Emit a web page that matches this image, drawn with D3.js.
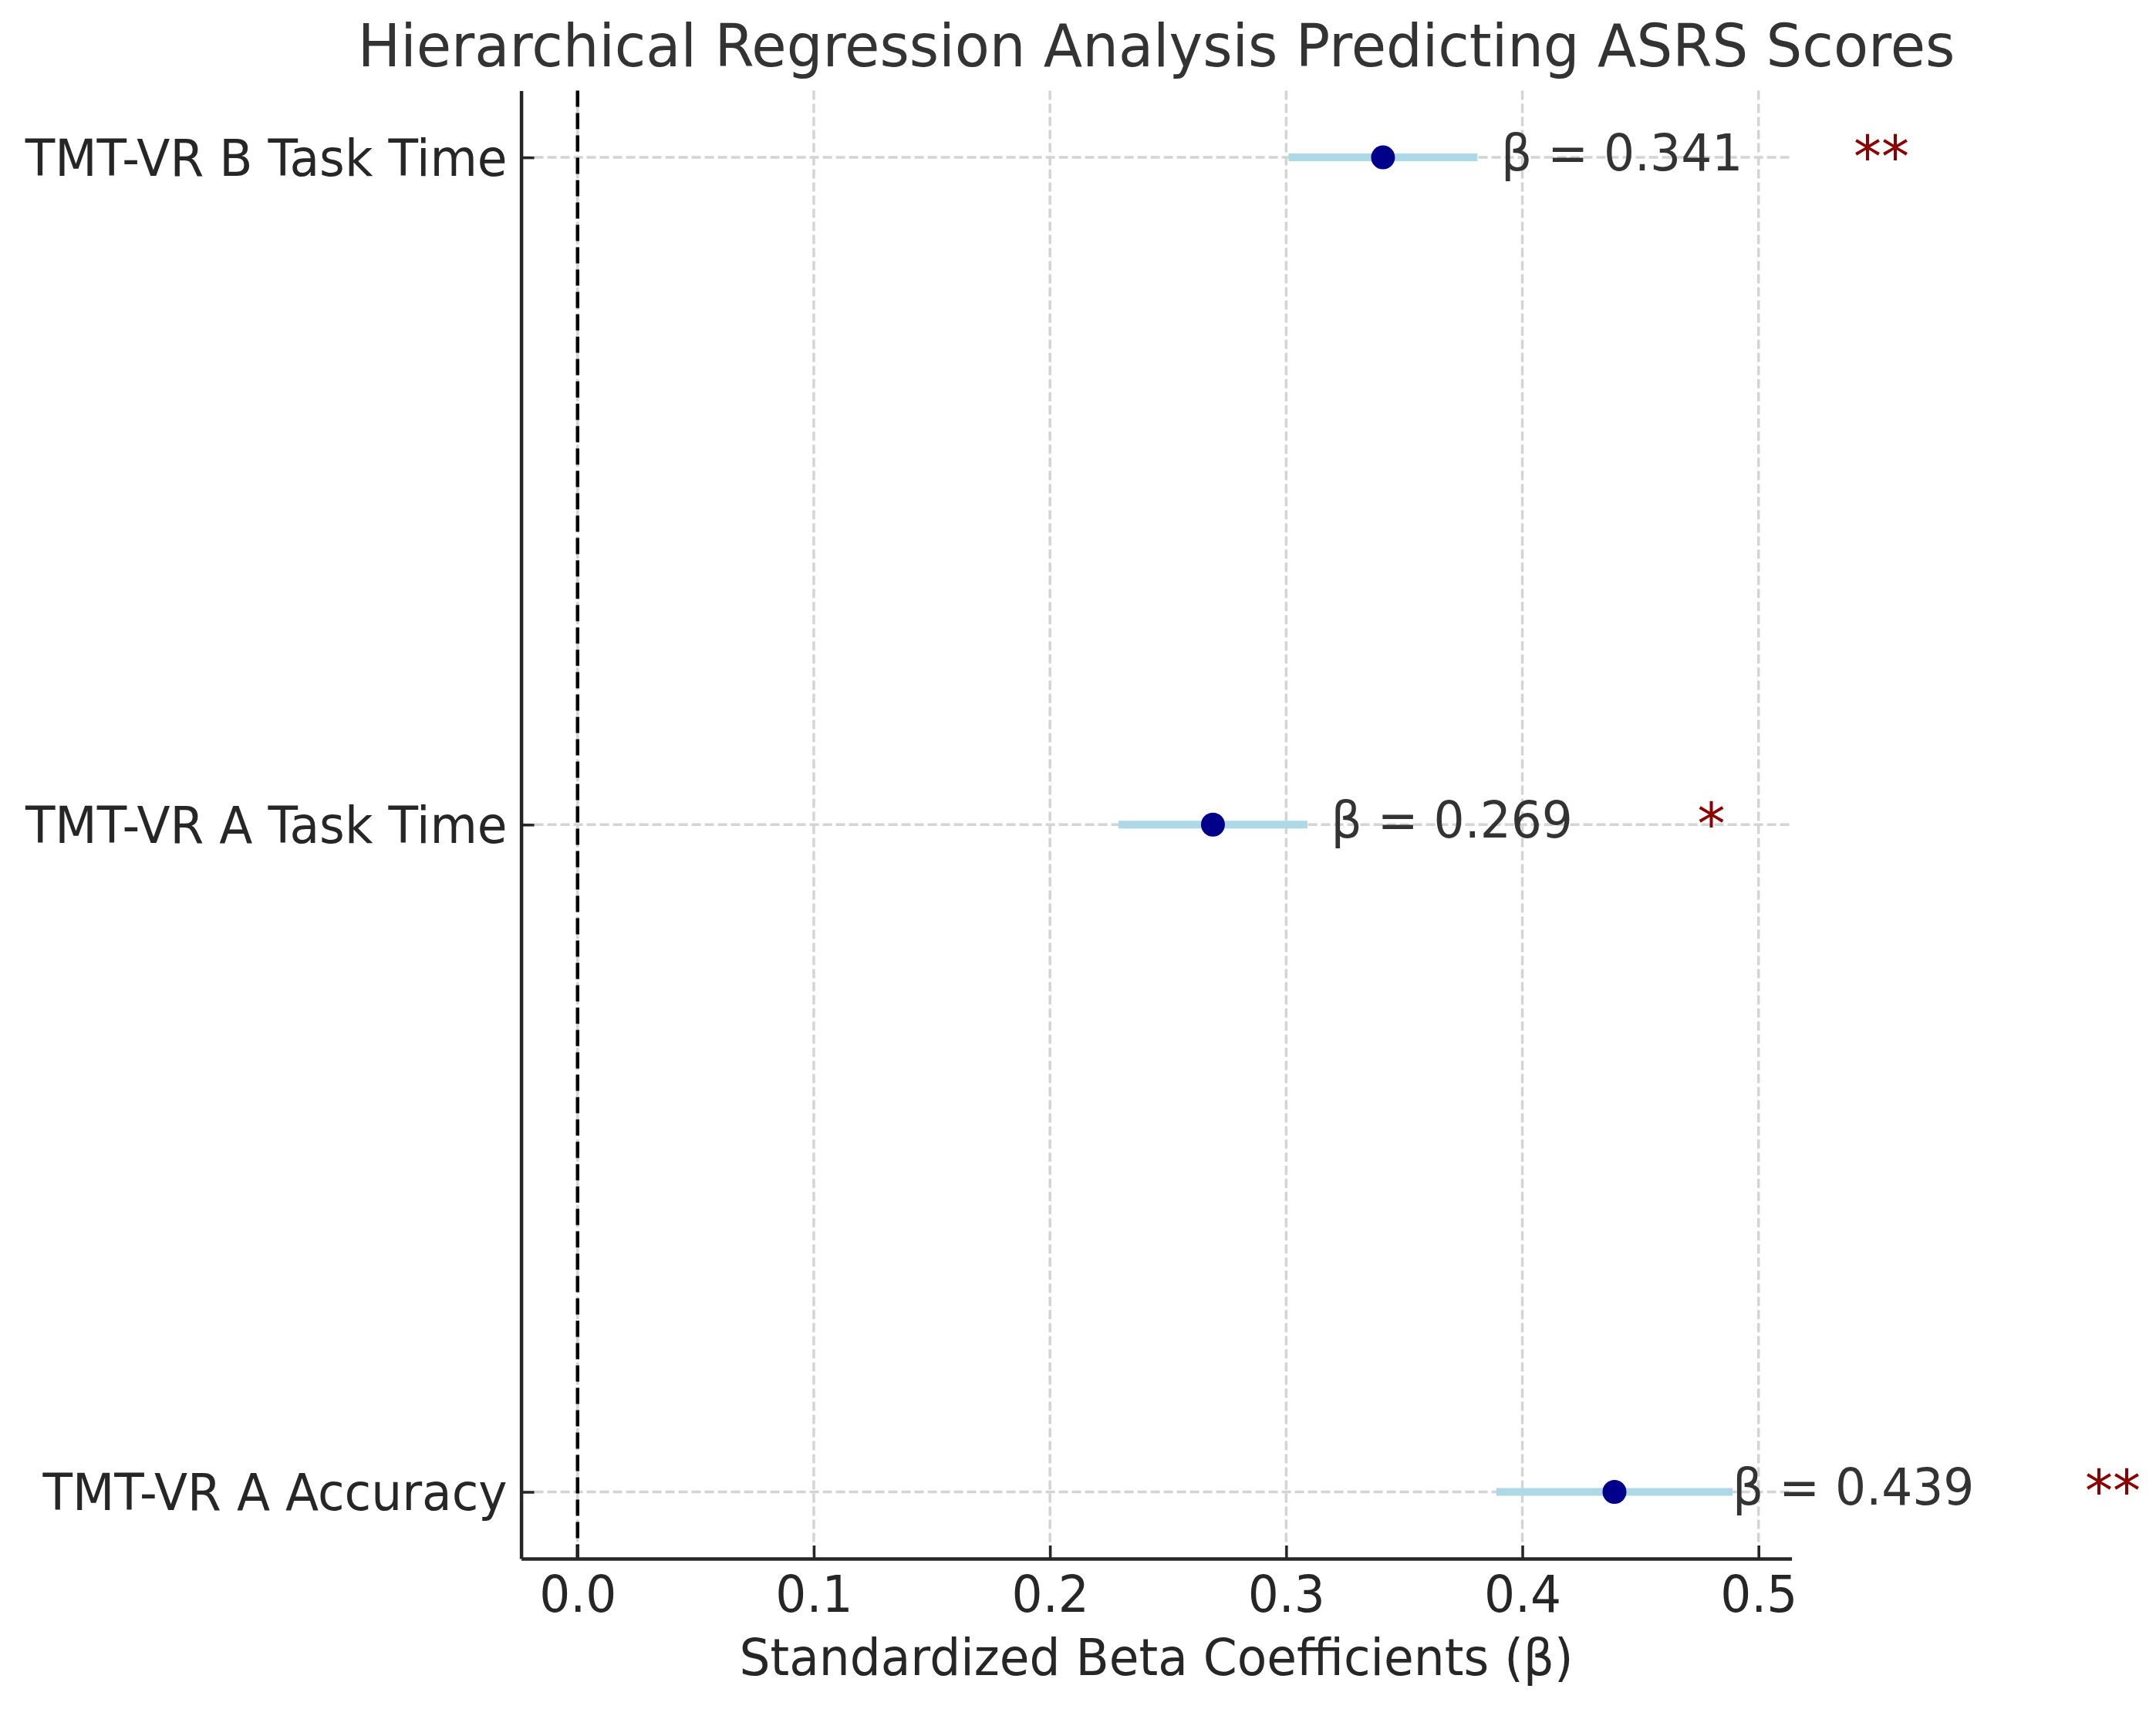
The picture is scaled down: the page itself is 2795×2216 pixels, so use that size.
<!DOCTYPE html>
<html>
<head>
<meta charset="utf-8" />
<script src="https://cdn.jsdelivr.net/npm/d3@7"></script>
<style>
  html, body { margin: 0; padding: 0; background: #fff; }
  svg { display: block; }
  text { font-family: "DejaVu Sans", sans-serif; fill: #262626; }
</style>
</head>
<body>
<div id="chart"></div>
<script>
// Data
const predictors = ["TMT-VR A Accuracy", "TMT-VR A Task Time", "TMT-VR B Task Time"];
const betas = [0.439, 0.269, 0.341];
const ciLow = [0.389, 0.229, 0.301];
const ciHigh = [0.489, 0.309, 0.381];
const stars = ["**", "*", "**"];
const xTicks = [0.0, 0.1, 0.2, 0.3, 0.4, 0.5];

const width = 2795;
const height = 2216;
const plotLeft = 675.6, plotRight = 2322.6, plotTop = 117.6, plotBottom = 2021;
const stretch = 1.04; // text in the picture is a bit taller than wide

const svg = d3.select("#chart")
    .append("svg")
    .attr("width", width)
    .attr("height", height);

const x = d3.scaleLinear().domain([-0.0239, 0.514]).range([plotLeft, plotRight]);
const y = d3.scalePoint().domain(predictors).range([plotBottom, plotTop]).padding(0.1);

// place a text at (px, py) baseline, slightly stretched
const putText = (g, str, px, py, size, anchor) => g.append("text")
    .attr("transform", `translate(${px},${py}) scale(1,${stretch})`)
    .attr("text-anchor", anchor)
    .style("font-size", size + "px")
    .text(str);

// Grid
svg.append("g").selectAll("line")
    .data(xTicks)
    .enter()
    .append("line")
    .attr("x1", d => x(d)).attr("x2", d => x(d))
    .attr("y1", plotTop).attr("y2", plotBottom)
    .attr("stroke", "#d4d4d4")
    .attr("stroke-width", 3.5)
    .attr("stroke-dasharray", "12,5");

svg.append("g").selectAll("line")
    .data(predictors)
    .enter()
    .append("line")
    .attr("x1", plotLeft).attr("x2", plotRight)
    .attr("y1", d => y(d)).attr("y2", d => y(d))
    .attr("stroke", "#d4d4d4")
    .attr("stroke-width", 3.5)
    .attr("stroke-dasharray", "12,5");

// Zero reference line
svg.append("line")
    .attr("x1", x(0)).attr("x2", x(0))
    .attr("y1", plotTop).attr("y2", plotBottom)
    .attr("stroke", "#000")
    .attr("stroke-width", 4.5)
    .attr("stroke-dasharray", "21,8");

// Axes
const xAxis = svg.append("g")
    .attr("transform", `translate(0,${plotBottom})`)
    .call(d3.axisBottom(x).tickValues(xTicks).tickFormat(d3.format(".1f")).tickSizeInner(-17).tickSizeOuter(0));

const yAxis = svg.append("g")
    .attr("transform", `translate(${plotLeft},0)`)
    .call(d3.axisLeft(y).tickSizeInner(-17).tickSizeOuter(0));

[xAxis, yAxis].forEach(ax => {
    ax.select(".domain").attr("stroke", "#262626").attr("stroke-width", 4.5);
    ax.selectAll(".tick line").attr("stroke", "#262626").attr("stroke-width", 3.5);
    ax.selectAll(".tick text").remove();
});

xAxis.selectAll(".tick").each(function (d) {
    putText(d3.select(this), d3.format(".1f")(d), 0, 69, 63, "middle");
});
yAxis.selectAll(".tick").each(function (d) {
    putText(d3.select(this), d, -18, 23, 63, "end");
});

// Confidence intervals
svg.append("g").selectAll("line")
    .data(predictors)
    .enter()
    .append("line")
    .attr("x1", (d, i) => x(ciLow[i]))
    .attr("x2", (d, i) => x(ciHigh[i]))
    .attr("y1", d => y(d)).attr("y2", d => y(d))
    .attr("stroke", "#add8e6")
    .attr("stroke-width", 10);

// Points
svg.append("g").selectAll("circle")
    .data(predictors)
    .enter()
    .append("circle")
    .attr("cx", (d, i) => x(betas[i]))
    .attr("cy", d => y(d))
    .attr("r", 15.5)
    .attr("fill", "#00008b");

// Beta labels and significance stars
predictors.forEach((p, i) => {
    putText(svg, `β = ${betas[i].toFixed(3)}`, x(betas[i] + 0.05), y(p) + 17, 63, "start")
        .style("fill", "#333");
    putText(svg, stars[i], x(betas[i] + 0.211), y(p) + 25, 72, "middle")
        .style("fill", "#8b0000");
});

// Title and axis label
putText(svg, "Hierarchical Regression Analysis Predicting ASRS Scores", (plotLeft + plotRight) / 2, 86, 73.7, "middle")
    .style("fill", "#333");
putText(svg, "Standardized Beta Coefficients (β)", (plotLeft + plotRight) / 2, 2172, 63, "middle");
</script>
</body>
</html>
